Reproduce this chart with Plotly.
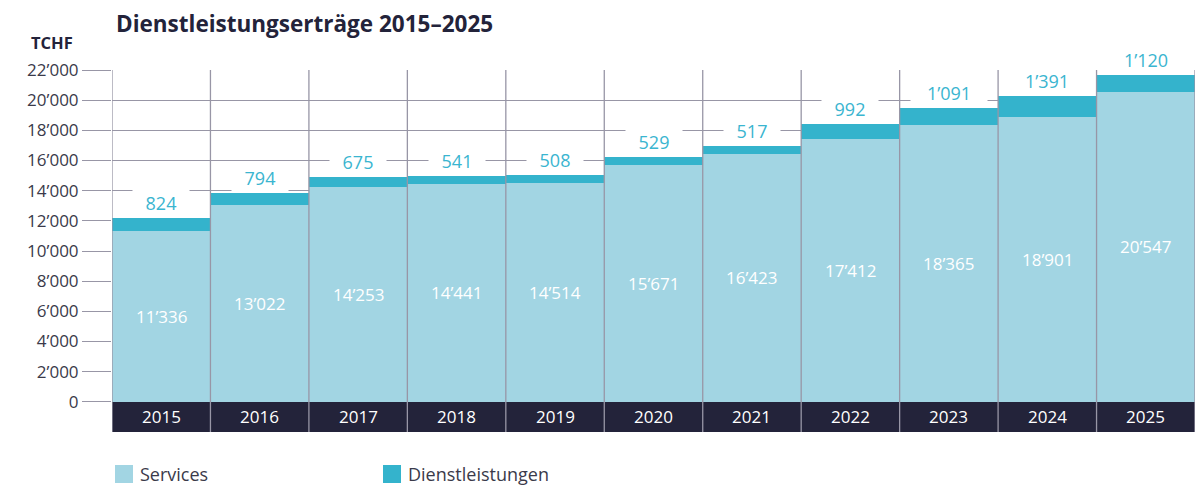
import plotly.graph_objects as go

years = ["2015", "2016", "2017", "2018", "2019", "2020", "2021", "2022", "2023", "2024", "2025"]
services = [11336, 13022, 14253, 14441, 14514, 15671, 16423, 17412, 18365, 18901, 20547]
dienst = [824, 794, 675, 541, 508, 529, 517, 992, 1091, 1391, 1120]
series_names = ["Services", "Dienstleistungen"]
series_colors = ["#a2d5e3", "#34b3cc"]
y_ticks = list(range(0, 22001, 2000))


def fmt(v):
    return f"{v:,}".replace(",", "\u2019")


FONT = "Open Sans"
DARK = "#23233a"
GRID = "#9896a6"
x = list(range(len(years)))

# figure is placed at (8, 8) in the page
W, H = 1196, 481
L, R, T, B = 104, 9, 62, 57
PH = H - T - B  # plot height in px


def py(page_y):
    return (H - B + 8 - page_y) / PH


def px(page_x):
    return (page_x - 8 - L) / (W - L - R)


fig = go.Figure()
fig.add_trace(go.Bar(x=x, y=services, name=series_names[0], marker_color=series_colors[0],
                     marker_line_width=0, width=1, showlegend=False, hoverinfo="skip"))
fig.add_trace(go.Bar(x=x, y=dienst, name=series_names[1], marker_color=series_colors[1],
                     marker_line_width=0, width=1, showlegend=False, hoverinfo="skip"))

shapes = []
shapes.append(dict(type="rect", xref="x", yref="y", x0=-0.5, x1=len(years) - 0.5, y0=-2000, y1=0,
                   fillcolor=DARK, line_width=0, layer="below"))
for i in range(len(years) + 1):
    shapes.append(dict(type="line", xref="x", yref="y", x0=i - 0.5, x1=i - 0.5, y0=-2000, y1=22130,
                       line=dict(color=GRID, width=1.3), layer="above"))

annotations = []
for i, (s, d) in enumerate(zip(services, dienst)):
    annotations.append(dict(x=i, y=s / 2, text=fmt(s), showarrow=False,
                            font=dict(family=FONT, size=17, color="white")))
    t = fmt(d)
    annotations.append(dict(x=i, y=s + d, text=t, showarrow=False, yanchor="middle", yshift=15,
                            font=dict(family=FONT, size=18, color="#3ab5d0"),
                            bgcolor="white", width=10 * len(t) + 24, borderpad=1))
    annotations.append(dict(x=i, y=-1000, text=years[i], showarrow=False,
                            font=dict(family=FONT, size=17, color="white")))

annotations.append(dict(xref="paper", yref="paper", x=px(75), y=py(43), text="<b>TCHF</b>",
                        showarrow=False, xanchor="right", yanchor="middle",
                        font=dict(family=FONT, size=16.5, color=DARK)))

leg_x = [115, 383]
for name, col, lx in zip(series_names, series_colors, leg_x):
    shapes.append(dict(type="rect", xref="paper", yref="paper", x0=px(lx), x1=px(lx + 18),
                       y0=py(465), y1=py(483), fillcolor=col, line_width=0))
    annotations.append(dict(xref="paper", yref="paper", x=px(lx + 23), y=py(474), text=name,
                            showarrow=False, xanchor="left", yanchor="middle",
                            font=dict(family=FONT, size=18, color="#3a3a4a")))

fig.update_layout(
    barmode="stack",
    bargap=0,
    width=W, height=H,
    margin=dict(l=L, r=R, t=T, b=B),
    paper_bgcolor="white", plot_bgcolor="white",
    title=dict(text="<b>Dienstleistungserträge 2015\u20132025</b>", xref="container", yref="container",
               x=(116 - 8) / W, y=1 - (24 - 8) / H, xanchor="left", yanchor="middle",
               font=dict(family=FONT, size=22.5, color=DARK)),
    xaxis=dict(range=[-0.5, len(years) - 0.5], showgrid=False, zeroline=False, showticklabels=False,
               ticks="", showline=False, fixedrange=True),
    yaxis=dict(range=[-2000, 22000], tickvals=y_ticks, ticktext=[fmt(v) for v in y_ticks],
               showgrid=True, gridcolor=GRID, gridwidth=1.3, zeroline=False,
               ticks="outside", ticklen=29, tickcolor=GRID, tickwidth=1.3,
               tickfont=dict(family=FONT, size=17, color="#3a3a4a"), showline=False),
    shapes=shapes,
    annotations=annotations,
    showlegend=False,
)

fig.write_html("out.html")
